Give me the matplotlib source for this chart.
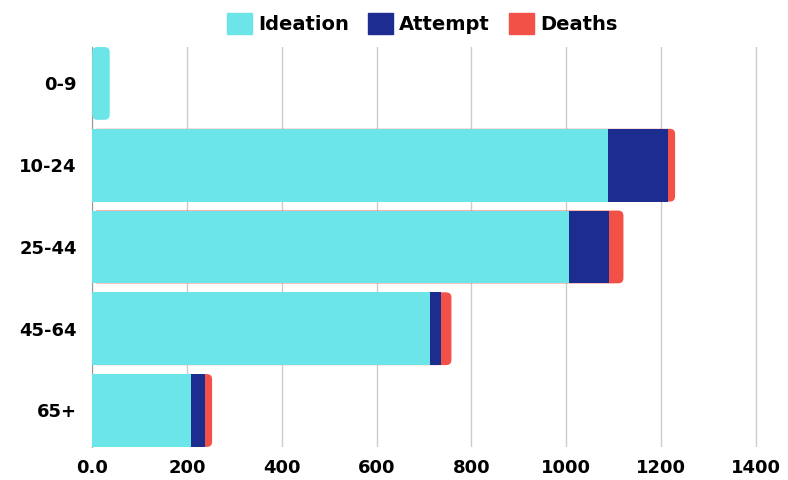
import matplotlib.pyplot as plt
from matplotlib.patches import FancyBboxPatch, Patch

ages = ["0-9", "10-24", "25-44", "45-64", "65+"]
ideation = [37, 1088, 1007, 712, 209]
attempt = [0, 127, 83, 25, 29]
deaths = [0, 15, 31, 21, 15]

xticks = [0, 200, 400, 600, 800, 1000, 1200, 1400]
xtick_labels = ["0.0", "200", "400", "600", "800", "1000", "1200", "1400"]

series = [("Ideation", ideation, "#6ce5e8"),
          ("Attempt", attempt, "#1c2d8f"),
          ("Deaths", deaths, "#f25148")]

plt.rcParams["font.family"] = ["DejaVu Sans"]
plt.rcParams["font.weight"] = "bold"

fig = plt.figure(figsize=(7.88, 4.80), dpi=100)
ax = fig.add_axes([0.117, 0.069, 0.866, 0.833])

h = 0.89
ypos = list(range(len(ages)))

for i, y in enumerate(ypos):
    vals = [s[1][i] for s in series]
    cols = [s[2] for s in series]
    last = max(k for k, v in enumerate(vals) if v > 0)
    total = sum(vals)
    # rounded end drawn as one patch from 0 to total, in the last segment colour
    ax.add_patch(FancyBboxPatch((0, y - h / 2), total, h,
                                boxstyle="round,pad=0,rounding_size=11",
                                mutation_aspect=0.0058,
                                fc=cols[last], ec="none", zorder=2))
    left = 0
    for k in range(last):
        ax.barh(y, vals[k], left=left, height=h, color=cols[k], zorder=3)
        left += vals[k]

ax.set_xlim(0, 1440)
ax.set_ylim(len(ages) - 1 + h / 2, -h / 2)
ax.set_yticks(ypos)
ax.set_yticklabels(ages)
ax.set_xticks(xticks)
ax.set_xticklabels(xtick_labels)
ax.tick_params(length=0, labelsize=13, colors="black")
ax.tick_params(axis="y", pad=11)
ax.tick_params(axis="x", pad=9)

ax.grid(axis="x", color="#cccccc", linewidth=1, zorder=0)
ax.set_axisbelow(True)
for s in ["top", "right", "bottom"]:
    ax.spines[s].set_visible(False)
ax.spines["left"].set_color("#999999")
ax.spines["left"].set_zorder(1)

handles = [Patch(color=c, label=n) for n, _, c in series]
fig.legend(handles=handles, loc="center", bbox_to_anchor=(0.536, 0.951),
           ncol=3, frameon=False, fontsize=14, handlelength=1.29,
           handleheight=1.29, handletextpad=0.3, columnspacing=1.0,
           borderaxespad=0)

fig.savefig("out.png", dpi=100)
